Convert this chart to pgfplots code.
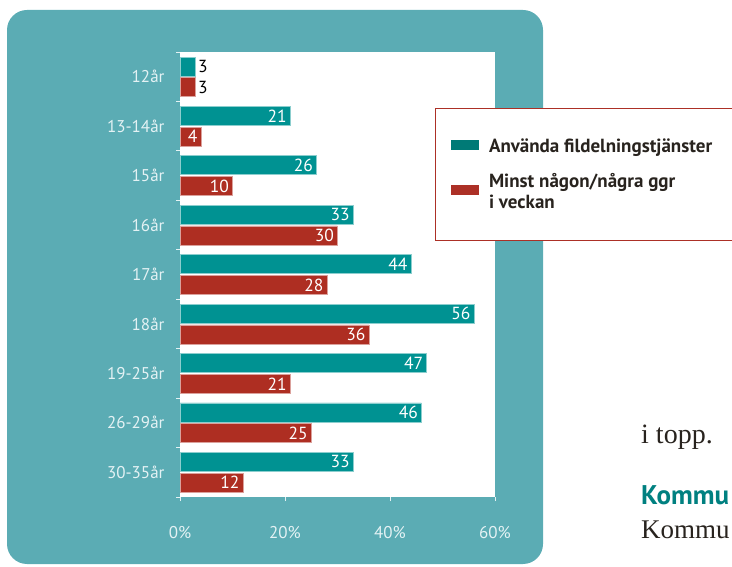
\documentclass[border=0pt]{standalone}
\usepackage{pgfplots}
\pgfplotsset{compat=1.18}
\usepackage{fontspec}
\setmainfont{PT Sans}
\newfontfamily\seriffont{Liberation Serif}
\definecolor{bgteal}{RGB}{91,172,180}
\definecolor{barteal}{RGB}{0,146,146}
\definecolor{barred}{RGB}{174,46,34}
\definecolor{legteal}{RGB}{0,122,118}
\definecolor{legred}{RGB}{172,48,38}
\definecolor{tickcol}{RGB}{228,242,244}
\definecolor{headteal}{RGB}{0,128,128}
\definecolor{txt}{RGB}{40,35,30}
\newcommand\tickfont{\fontsize{17}{20}\selectfont}
\newcommand\valfont{\fontsize{17.5}{20}\selectfont}
\newcommand\legfont{\bfseries\fontsize{19}{21}\selectfont}
\begin{document}
\begin{tikzpicture}[x=1pt,y=1pt]
\useasboundingbox (0,0) rectangle (732,566);
\fill[bgteal, rounded corners=20pt] (7,2) rectangle (543,556);
\begin{axis}[
  at={(180pt,69pt)}, anchor=south west,
  width=315pt, height=445pt, scale only axis,
  xmin=0, xmax=60, ymin=-0.5, ymax=8.5,
  axis background/.style={fill=white},
  axis line style={draw=none},
  tick pos=left,
  xtick={0,20,40,60}, xticklabels={0\%,20\%,40\%,60\%},
  ytick={0,...,8},
  yticklabels={30-35år,26-29år,19-25år,18år,17år,16år,15år,13-14år,12år},
  minor ytick={-0.5,0.5,...,8.5},
  tick align=outside, major tick length=4pt, minor tick length=4pt,
  every major y tick/.style={draw=none},
  every minor y tick/.style={draw=tickcol, line width=0.8pt},
  every major x tick/.style={draw=tickcol, line width=0.8pt},
  ticklabel style={font=\tickfont, text=tickcol},
  xticklabel style={yshift=-22pt},
  yticklabel style={xshift=-8pt},
  /pgf/number format/assume math mode=true,
  clip=false,
  legend style={at={(0.8095,0.8742)}, anchor=north west, draw=legred, line width=0.7pt,
    fill=white, inner xsep=16pt, inner ysep=28pt, font=\legfont, text=txt,
    cells={align=left}, column sep=8pt, row sep=16pt},
  legend cell align=left,
]
\addlegendimage{legend image code/.code={\fill[legteal] (0pt,-3pt) rectangle (27pt,6pt);}}
\addlegendentry{\makebox[262pt][l]{Använda fildelningstjänster}}
\addlegendimage{legend image code/.code={\fill[legred] (0pt,-3pt) rectangle (27pt,6pt);}}
\addlegendentry{Minst någon/några ggr\\ i veckan}
% teal series
\addplot[xbar, bar width=19pt, bar shift=0pt, fill=barteal, draw=barteal!45!white, line width=0.6pt,
  nodes near coords, nodes near coords style={anchor=east, text=white, font=\valfont}, forget plot]
  coordinates {(21,7.21) (26,6.21) (33,5.21) (44,4.21) (56,3.21) (47,2.21) (46,1.21) (33,0.21)};
\addplot[xbar, bar width=19pt, bar shift=0pt, fill=barteal, draw=barteal!45!white, line width=0.6pt,
  nodes near coords, nodes near coords style={anchor=west, text=black, font=\valfont, inner sep=2pt}, forget plot]
  coordinates {(3,8.21)};
% red series
\addplot[xbar, bar width=19pt, bar shift=0pt, fill=barred, draw=barred!45!white, line width=0.6pt,
  nodes near coords, nodes near coords style={anchor=east, text=white, font=\valfont}, forget plot]
  coordinates {(4,6.79) (10,5.79) (30,4.79) (28,3.79) (36,2.79) (21,1.79) (25,0.79) (12,-0.21)};
\addplot[xbar, bar width=19pt, bar shift=0pt, fill=barred, draw=barred!45!white, line width=0.6pt,
  nodes near coords, nodes near coords style={anchor=west, text=black, font=\valfont, inner sep=2pt}, forget plot]
  coordinates {(3,7.79)};
\end{axis}
\node[anchor=base west, inner sep=0, text=txt, font=\seriffont\fontsize{28}{32}\selectfont] at (641,123) {i topp.};
\node[anchor=base west, inner sep=0, text=headteal, font=\bfseries\fontsize{27}{30}\selectfont] at (641,62) {Kommu};
\node[anchor=base west, inner sep=0, text=txt, font=\seriffont\fontsize{27}{30}\selectfont] at (641,28) {Kommu};
\end{tikzpicture}
\end{document}
